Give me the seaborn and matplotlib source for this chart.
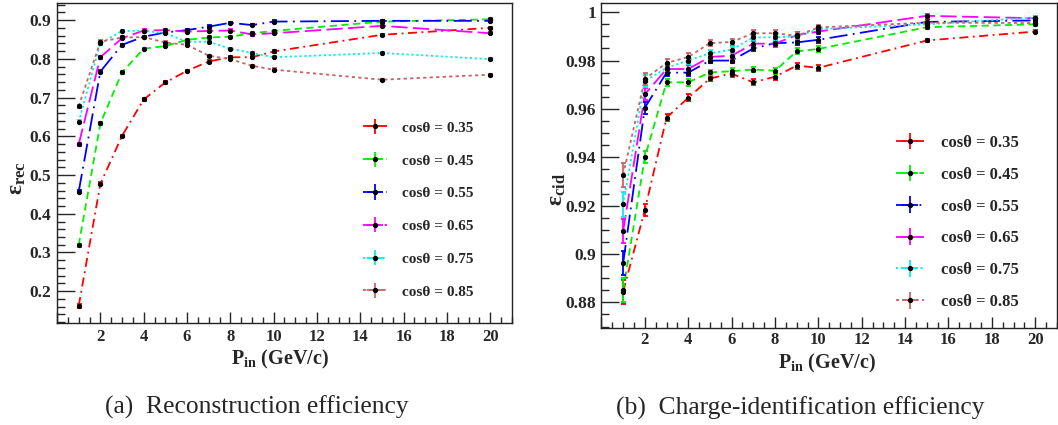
import numpy as np
import pandas as pd
import matplotlib
matplotlib.use("Agg")
import matplotlib.pyplot as plt
from matplotlib.ticker import MultipleLocator, FuncFormatter
from matplotlib.lines import Line2D
from matplotlib.collections import LineCollection
from matplotlib.container import ErrorbarContainer
import seaborn as sns

# Incident momentum points (GeV/c)
p_in = [1, 2, 3, 4, 5, 6, 7, 8, 9, 10, 15, 20]

cos_labels = ["cosθ = 0.35", "cosθ = 0.45", "cosθ = 0.55",
              "cosθ = 0.65", "cosθ = 0.75", "cosθ = 0.85"]

# Reconstruction efficiency per cos(theta) bin
rec_035 = [0.162, 0.477, 0.601, 0.695, 0.739, 0.769, 0.793, 0.804, 0.804, 0.819, 0.862, 0.880]
rec_045 = [0.319, 0.633, 0.765, 0.826, 0.833, 0.849, 0.855, 0.857, 0.866, 0.872, 0.896, 0.902]
rec_055 = [0.457, 0.767, 0.836, 0.857, 0.868, 0.874, 0.883, 0.893, 0.887, 0.896, 0.898, 0.898]
rec_065 = [0.579, 0.804, 0.853, 0.873, 0.874, 0.870, 0.872, 0.873, 0.863, 0.866, 0.885, 0.866]
rec_075 = [0.637, 0.840, 0.872, 0.872, 0.866, 0.844, 0.844, 0.826, 0.815, 0.804, 0.815, 0.799]
rec_085 = [0.678, 0.844, 0.855, 0.856, 0.842, 0.836, 0.808, 0.799, 0.782, 0.772, 0.746, 0.759]
rec_err = [0.004, 0.004, 0.003, 0.003, 0.003, 0.003, 0.003, 0.003, 0.003, 0.003, 0.003, 0.003]

# Charge-identification efficiency per cos(theta) bin
cid_035 = [0.8844, 0.9183, 0.9564, 0.9646, 0.9726, 0.9746, 0.9710, 0.9733, 0.9779, 0.9770, 0.9883, 0.9920]
cid_045 = [0.8850, 0.9400, 0.9710, 0.9710, 0.9751, 0.9756, 0.9763, 0.9758, 0.9838, 0.9848, 0.9938, 0.9950]
cid_055 = [0.8963, 0.9605, 0.9750, 0.9750, 0.9800, 0.9800, 0.9850, 0.9872, 0.9875, 0.9886, 0.9960, 0.9966]
cid_065 = [0.9095, 0.9660, 0.9765, 0.9765, 0.9815, 0.9820, 0.9870, 0.9870, 0.9905, 0.9920, 0.9985, 0.9975]
cid_075 = [0.9205, 0.9715, 0.9770, 0.9800, 0.9830, 0.9845, 0.9896, 0.9896, 0.9900, 0.9930, 0.9950, 0.9978]
cid_085 = [0.9328, 0.9724, 0.9790, 0.9815, 0.9872, 0.9877, 0.9913, 0.9913, 0.9902, 0.9937, 0.9957, 0.9955]
cid_err = [0.005, 0.0025, 0.0015, 0.0015, 0.0012, 0.0012, 0.0012, 0.0012, 0.0012, 0.0012, 0.0008, 0.0008]

colors = ["#ff0000", "#00ee00", "#0000ff", "#ff00ff", "#00eeee", "#c86464"]
dash_styles = [(5, 2.5, 1, 2.5), (4, 2.5), (10, 3, 1, 3), (9, 3), (1.2, 1.5), (1.8, 1.8)]

sns.set_theme(style="white")
plt.rcParams["font.family"] = ["Liberation Serif", "DejaVu Serif"]
plt.rcParams["font.weight"] = "bold"
plt.rcParams["mathtext.fontset"] = "custom"
plt.rcParams["mathtext.rm"] = "Liberation Serif:bold"
plt.rcParams["mathtext.bf"] = "Liberation Serif:bold"
plt.rcParams["mathtext.it"] = "Liberation Serif:bold"


def long_frame(series):
    rows = []
    for lab, vals in zip(cos_labels, series):
        for x, v in zip(p_in, vals):
            rows.append({"p": x, "eff": v, "bin": lab})
    return pd.DataFrame(rows)


def legend_handles():
    handles = []
    for c, d in zip(colors, dash_styles):
        line = Line2D([], [], color=c, dashes=d, lw=1.3, marker="o",
                      ms=2.8, mfc="black", mec="black")
        bars = (LineCollection([], colors=c, linewidths=1.3),
                LineCollection([], colors=c, linewidths=1.3))
        handles.append(ErrorbarContainer((line, (), bars), has_xerr=True, has_yerr=True))
    return handles


def draw_panel(ax, series, err, ylim, ymajor, yminor, xpad):
    df = long_frame(series)
    sns.lineplot(data=df, x="p", y="eff", hue="bin", style="bin",
                 palette=dict(zip(cos_labels, colors)),
                 dashes=dict(zip(cos_labels, dash_styles)),
                 linewidth=1.3, errorbar=None, legend=False, ax=ax)
    for vals, c in zip(series, colors):
        ax.errorbar(p_in, vals, yerr=err, fmt="o", ms=2.8, mfc="black", mec="black",
                    ecolor=c, elinewidth=1.3, capsize=1.8, capthick=1.3, zorder=3)
    ax.set_xlim(0, 21)
    ax.set_ylim(*ylim)
    ax.xaxis.set_major_locator(MultipleLocator(2))
    ax.xaxis.set_minor_locator(MultipleLocator(0.5))
    ax.yaxis.set_major_locator(MultipleLocator(ymajor))
    ax.yaxis.set_minor_locator(MultipleLocator(yminor))
    ax.yaxis.set_major_formatter(FuncFormatter(lambda v, _: f"{v:g}"))
    ax.xaxis.set_major_formatter(FuncFormatter(lambda v, _: "" if v == 0 else f"{v:g}"))
    ax.tick_params(axis="y", which="major", direction="in", length=13, width=1,
                   labelsize=12.5, pad=4, left=True)
    ax.tick_params(axis="y", which="minor", direction="in", length=6, width=1, left=True)
    ax.tick_params(axis="x", which="major", direction="in", length=8, width=1,
                   labelsize=12, pad=xpad, bottom=True)
    ax.tick_params(axis="x", which="minor", direction="in", length=4, width=1, bottom=True)
    for lab in ax.get_xticklabels() + ax.get_yticklabels():
        lab.set_fontweight("bold")
    for s in ax.spines.values():
        s.set_color("#222222")
        s.set_linewidth(1.0)
    ax.set_xlabel("")
    ax.set_ylabel("")


fig = plt.figure(figsize=(10.58, 4.25), dpi=100)
ax1 = fig.add_axes([0.0539, 0.240, 0.4300, 0.7529])
ax2 = fig.add_axes([0.5685, 0.2282, 0.4305, 0.7647])

draw_panel(ax1, [rec_035, rec_045, rec_055, rec_065, rec_075, rec_085], rec_err,
           (0.118, 0.944), 0.1, 0.02, 4)
draw_panel(ax2, [cid_035, cid_045, cid_055, cid_065, cid_075, cid_085], cid_err,
           (0.8694, 1.0038), 0.02, 0.005, 3)

ax1.legend(handles=legend_handles(), labels=cos_labels, loc="upper left",
           bbox_to_anchor=(0.655, 0.655), frameon=False, prop={"size": 11, "weight": "bold"},
           labelspacing=1.25, handlelength=1.6, handletextpad=1.0, borderpad=0)
ax2.legend(handles=legend_handles(), labels=cos_labels, loc="upper left",
           bbox_to_anchor=(0.628, 0.62), frameon=False, prop={"size": 12, "weight": "bold"},
           labelspacing=0.95, handlelength=1.7, handletextpad=1.0, borderpad=0)

# Axis titles
fig.text(280 / 1058, 1 - 359 / 425, r"$\mathbf{P_{in}}$ (GeV/c)", ha="center", va="center",
         fontsize=14.5, fontweight="bold")
fig.text(827 / 1058, 1 - 363 / 425, r"$\mathbf{P_{in}}$ (GeV/c)", ha="center", va="center",
         fontsize=14.5, fontweight="bold")
fig.text(18 / 1058, 1 - 178 / 425, r"$\varepsilon_{\mathbf{rec}}$", ha="center", va="center",
         rotation=90, fontsize=17)
fig.text(557 / 1058, 1 - 190 / 425, r"$\varepsilon_{\mathbf{cid}}$", ha="center", va="center",
         rotation=90, fontsize=17)

# Sub-figure captions
fig.text(257 / 1058, 1 - 407 / 425, "(a)  Reconstruction efficiency", ha="center", va="center",
         fontsize=18.4, fontweight="normal")
fig.text(800 / 1058, 1 - 408 / 425, "(b)  Charge-identification efficiency", ha="center",
         va="center", fontsize=18.4, fontweight="normal")

fig.savefig("out.png", dpi=100)
